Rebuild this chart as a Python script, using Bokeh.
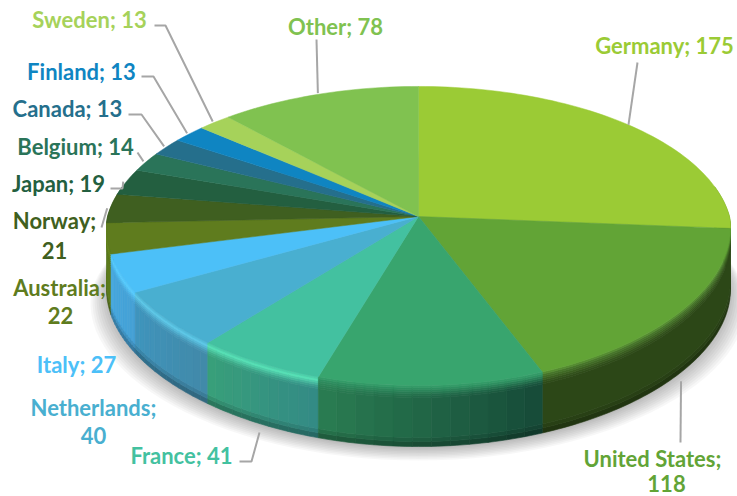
import math
from bokeh.plotting import figure
from bokeh.models import Range1d
from bokeh.core.properties import value
from bokeh.embed import file_html
from bokeh.resources import INLINE

# ---- data (clockwise from 12 o'clock) ----
countries = ["Germany", "United States", "", "France", "Netherlands", "Italy", "Australia",
             "Norway", "Japan", "Belgium", "Canada", "Finland", "Sweden", "Other"]
counts = [175, 118, 72, 41, 40, 27, 22, 21, 19, 14, 13, 13, 13, 78]

# ---- style ----
top_colors = ["#9BCB35", "#62A436", "#38A56E", "#43C1A0", "#49AFD0", "#4CC0F8", "#5F7C1E",
              "#3F5F20", "#235F40", "#2A7459", "#256F8C", "#0F85C2", "#A6D25A", "#80C250"]
wall_left = ["#2D4A18", "#2C4717", "#2A7D52", "#38A07A", "#3F95BE", "#45A8DF", "#5C7A1C",
             "#3F5F20", "#235F40", "#2A7459", "#256F8C", "#0F85C2", "#A6D25A", "#80C250"]
wall_right = ["#2D4A18", "#2C4717", "#164A38", "#338A85", "#4189A8", "#45A0D5", "#5C7A1C",
              "#3F5F20", "#235F40", "#2A7459", "#256F8C", "#0F85C2", "#A6D25A", "#80C250"]
bevels = ["#4F7A24", "#47752A", "#2E8F60", "#55E0B5", "#5CC8E8", "#58CCFF", "#6A8A22",
          "#3F5F20", "#235F40", "#2A7459", "#256F8C", "#0F85C2", "#A6D25A", "#80C250"]

CX, CY, A, B, K, KX_FRONT, DEPTH, RIM = 418, 216, 311, 147, 0.1304, 0.08, 61, 12

# label text lines: (text, centre x, centre y, slice index)
label_lines = [
    ("Germany; 175", 664, 45, 0), ("United States;", 652, 458, 1), ("118", 666, 483, 1),
    ("France; 41", 181, 455, 3), ("Netherlands;", 93, 407, 4), ("40", 93, 435, 4),
    ("Italy; 27", 76, 364, 5), ("Australia;", 59, 287, 6), ("22", 60, 315, 6),
    ("Norway;", 54, 220, 7), ("21", 54, 250, 7), ("Japan; 19", 58, 183, 8),
    ("Belgium; 14", 75, 146, 9), ("Canada; 13", 67, 108, 10), ("Finland; 13", 81, 71, 11),
    ("Sweden; 13", 89, 19, 12), ("Other; 78", 335, 26, 13),
]
# leader lines: slice index, free end points, radial pad
leaders = [
    (0, [(637, 62)], 0.0), (1, [(680, 442)], 0.0), (3, [(239, 461), (251, 461)], 0.0),
    (7, [(101, 227)], 0.01), (8, [(110, 188), (122, 188)], 0.01), (9, [(137, 152)], 0.01),
    (10, [(128, 114), (141, 114)], 0.01), (11, [(141, 76), (153, 76)], 0.01),
    (12, [(154, 25), (165, 25)], 0.01), (13, [(316, 39)], 0.01),
]


def project(deg, r=1.0):
    t = math.radians(deg)
    X, Y = r * math.sin(t), r * math.cos(t)
    kx = K if Y >= 0 else KX_FRONT
    return CX + A * X / (1 + kx * Y), CY - B * Y / (1 + K * Y)


def mix(c1, c2, f):
    a = [int(c1[i:i + 2], 16) for i in (1, 3, 5)]
    b = [int(c2[i:i + 2], 16) for i in (1, 3, 5)]
    return "#%02x%02x%02x" % tuple(round(p + (q - p) * f) for p, q in zip(a, b))


total = sum(counts)
edges = [0]
for c in counts:
    edges.append(edges[-1] + c / total * 360)

p = figure(width=737, height=496, output_backend="svg", toolbar_location=None,
           x_range=Range1d(0, 737), y_range=Range1d(496, 0),
           min_border=0, outline_line_color=None, background_fill_color="white")
p.axis.visible = False
p.grid.visible = False

# soft shadow under the pie
for i in range(9):
    e = 16 - i * 2
    xs, ys = [], []
    for d in range(0, 360, 3):
        x, y = project(d)
        xs.append(CX + (x - CX) * (1 + e / 312))
        ys.append(y + DEPTH + e * 0.75 + 2)
    p.patch(xs, ys, fill_color="#000000", fill_alpha=0.03, line_color=None)

# side wall: each slice is cut into shading steps, each step into depth rows
order = sorted(range(len(counts)), key=lambda i: -math.cos(math.radians((edges[i] + edges[i + 1]) / 2)))
for i in order:
    a0, a1 = max(edges[i], 78), min(edges[i + 1], 282)
    if a1 <= a0:
        continue
    steps = 1 if wall_left[i] == wall_right[i] else 12
    for j in range(steps):
        s0 = a0 + (a1 - a0) * j / steps
        s1 = a0 + (a1 - a0) * (j + 1) / steps
        wc = mix(wall_right[i], wall_left[i], (j + 0.5) / steps)
        n = max(2, int((s1 - s0) / 1.0))
        arc = [project(s0 + (s1 - s0) * q / n) for q in range(n + 1)]
        rows = [(DEPTH - 5, DEPTH, mix(wc, "#000000", 0.25)), (DEPTH - 9, DEPTH - 5, mix(wc, "#000000", 0.1)),
                (RIM, DEPTH - 9, wc), (10, RIM, mix(bevels[i], wc, 0.9)),
                (8, 10, mix(bevels[i], wc, 0.75)), (6, 8, mix(bevels[i], wc, 0.5)),
                (4, 6, mix(bevels[i], wc, 0.25)), (2, 4, bevels[i]),
                (0, 2, mix(top_colors[i], bevels[i], 0.5))]
        for d0, d1, col in rows:
            xs = [q[0] for q in arc] + [q[0] for q in reversed(arc)]
            ys = [q[1] + d0 for q in arc] + [q[1] + d1 for q in reversed(arc)]
            p.patch(xs, ys, fill_color=col, line_color=col, line_width=0.6)

# top face
top_xs, top_ys = [], []
for i in range(len(counts)):
    n = max(2, int((edges[i + 1] - edges[i]) / 1.5))
    pts = [project(edges[i] + (edges[i + 1] - edges[i]) * j / n) for j in range(n + 1)]
    top_xs.append([CX] + [q[0] for q in pts])
    top_ys.append([CY] + [q[1] for q in pts])
p.patches(top_xs, top_ys, fill_color=top_colors, line_color=top_colors, line_width=0.5)

# leader lines
for idx, free, pad in leaders:
    mid = (edges[idx] + edges[idx + 1]) / 2
    x, y = project(mid, 1 + pad)
    if 100 < mid < 260:
        y += DEPTH + 9
    p.line([q[0] for q in free] + [x], [q[1] for q in free] + [y], line_color="#A6A6A6", line_width=2)

# labels
for txt, x, y, idx in label_lines:
    p.text([x], [y], text=[txt], text_color=top_colors[idx], text_font=value("Lato"),
           text_font_style="bold", text_font_size="22px", text_align="center", text_baseline="middle")

open("out.html", "w").write(file_html(p, INLINE))
